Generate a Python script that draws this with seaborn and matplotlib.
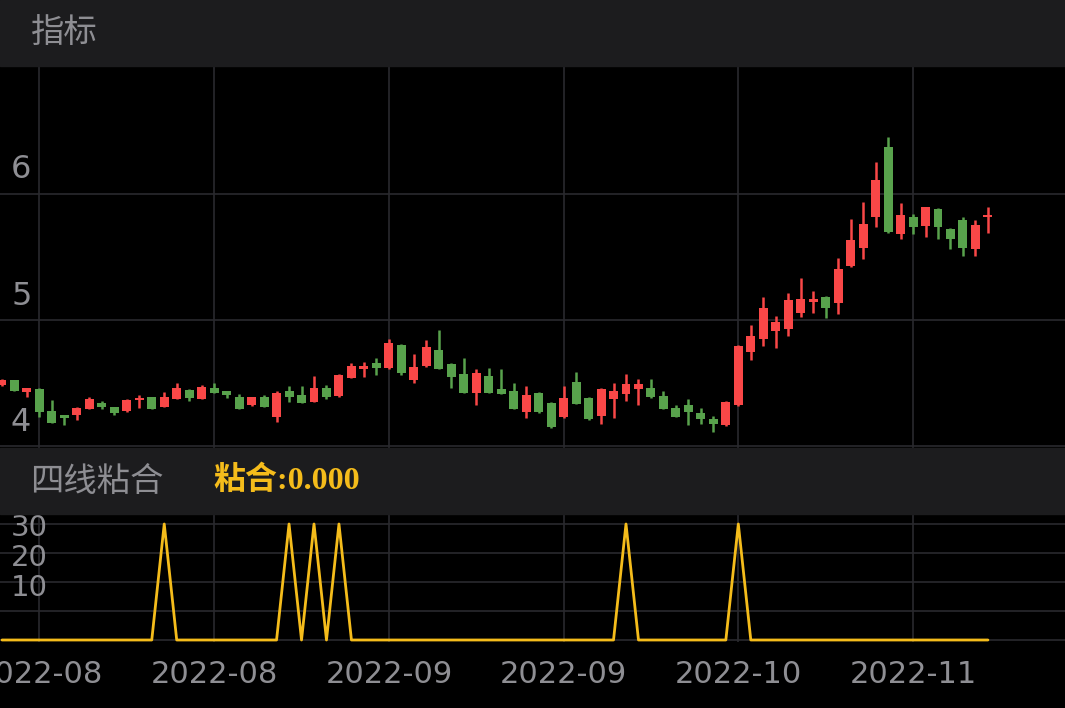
import matplotlib
matplotlib.use("Agg")
import matplotlib.pyplot as plt
import seaborn as sns
import numpy as np
import pandas as pd
from matplotlib.patches import Rectangle

opens = [4.484,4.52,4.429,4.452,4.278,4.246,4.246,4.294,4.341,4.310,4.278,4.365,4.389,4.310,4.373,4.444,4.373,4.460,4.437,4.389,
         4.325,4.389,4.230,4.437,4.405,4.349,4.460,4.397,4.540,4.611,4.659,4.619,4.802,4.524,4.635,4.762,4.651,4.571,4.421,4.556,
         4.452,4.437,4.270,4.421,4.341,4.230,4.508,4.381,4.238,4.373,4.413,4.452,4.460,4.397,4.302,4.325,4.262,4.214,4.167,4.325,
         4.746,4.849,4.913,4.929,5.056,5.143,5.183,5.135,5.429,5.571,5.817,6.373,5.683,5.817,5.746,5.881,5.722,5.794,5.563,5.817]
closes = [4.524,4.437,4.460,4.270,4.183,4.222,4.302,4.373,4.310,4.262,4.365,4.381,4.294,4.389,4.460,4.381,4.468,4.421,4.405,4.294,
          4.389,4.310,4.421,4.389,4.341,4.460,4.389,4.563,4.635,4.635,4.619,4.817,4.579,4.627,4.786,4.611,4.548,4.421,4.579,4.421,
          4.413,4.294,4.405,4.270,4.151,4.381,4.333,4.214,4.452,4.437,4.492,4.492,4.389,4.294,4.230,4.270,4.214,4.175,4.349,4.794,
          4.873,5.095,4.984,5.159,5.167,5.167,5.095,5.405,5.635,5.762,6.111,5.698,5.833,5.738,5.897,5.738,5.643,5.571,5.754,5.833]
highs = [4.53,4.52,4.46,4.46,4.365,4.25,4.31,4.39,4.357,4.31,4.37,4.405,4.39,4.429,4.50,4.45,4.484,4.50,4.44,4.413,
         4.39,4.405,4.437,4.476,4.476,4.556,4.484,4.57,4.659,4.667,4.698,4.849,4.81,4.730,4.841,4.921,4.66,4.698,4.611,4.619,
         4.611,4.50,4.476,4.43,4.349,4.476,4.587,4.39,4.46,4.50,4.571,4.532,4.532,4.437,4.325,4.373,4.302,4.238,4.36,4.80,
         4.960,5.183,5.032,5.214,5.333,5.230,5.19,5.492,5.802,5.937,6.254,6.452,5.929,5.841,5.90,5.89,5.73,5.817,5.794,5.897]
lows = [4.48,4.437,4.389,4.230,4.18,4.167,4.206,4.29,4.294,4.246,4.27,4.302,4.29,4.31,4.37,4.357,4.37,4.42,4.381,4.29,
        4.32,4.31,4.190,4.349,4.34,4.35,4.373,4.39,4.54,4.548,4.563,4.61,4.563,4.50,4.63,4.61,4.460,4.42,4.325,4.42,
        4.41,4.29,4.222,4.26,4.14,4.22,4.33,4.21,4.175,4.222,4.357,4.325,4.38,4.29,4.23,4.167,4.175,4.111,4.16,4.32,
        4.683,4.794,4.778,4.873,5.024,5.056,5.016,5.048,5.42,5.484,5.738,5.69,5.643,5.683,5.659,5.643,5.563,5.508,5.508,5.690]
nianhe = [0]*80
for i in [13, 23, 25, 27, 50, 59]:
    nianhe[i] = 30
tick_idx = [3, 17, 31, 45, 59, 73]
tick_labels = ["2022-08", "2022-08", "2022-09", "2022-09", "2022-10", "2022-11"]

sns.set_theme(style="dark")
plt.rcParams['font.family'] = ['DejaVu Sans', 'Noto Sans CJK SC']

BG = "#000000"; BAR = "#1c1c1e"; GRID = "#2a2a2e"; TXT = "#8e8e93"
RED = "#f94747"; GREEN = "#58a24c"; GOLD = "#f5bc1b"

W, H = 1065, 708
fig = plt.figure(figsize=(W/100, H/100), dpi=100, facecolor=BG)
fig.patches.append(Rectangle((0, 1-66/H), 1, 66/H, transform=fig.transFigure, color=BAR, zorder=0))
fig.patches.append(Rectangle((0, 1-514/H), 1, 66/H, transform=fig.transFigure, color=BAR, zorder=0))
fig.text(31/W, 1-33/H, "指标", color=TXT, fontsize=24, va="center", family=['Noto Sans CJK SC'])
fig.text(30/W, 1-481/H, "四线粘合", color=TXT, fontsize=24, va="center", family=['Noto Sans CJK SC'])
fig.text(213/W, 1-481/H, "粘合:0.000", color=GOLD, fontsize=23, va="center", weight="bold",
         family=['Liberation Serif', 'Noto Sans CJK SC'])

n = len(opens)
x = np.arange(n)
xl = (-2/12.48, (W-2)/12.48)

ax = fig.add_axes([0, (H-448)/H, 1, 382/H])
ax.set_facecolor(BG)
ax.set_xlim(*xl)
ax.set_ylim(5-128/126, 5+254/126)
df = pd.DataFrame({"x": x, "o": opens, "c": closes, "h": highs, "l": lows})
df["up"] = df.c >= df.o
cols = [RED if u else GREEN for u in df.up]
ax.vlines(df.x, df.l, df.h, colors=cols, lw=1.8, zorder=3)
ax.bar(df.x, (df.c-df.o).abs().clip(lower=0.014), bottom=np.minimum(df.o, df.c), width=0.72,
       color=cols, edgecolor=cols, linewidth=0, zorder=4)
for v in [4, 5, 6]:
    ax.axhline(v, color=GRID, lw=1.2, zorder=1)
    ax.text(11/W, v + 24/126, str(v), transform=ax.get_yaxis_transform(), color=TXT, fontsize=23, va="center")
for t in tick_idx:
    ax.axvline(t, color=GRID, lw=1.2, zorder=1)
ax.set_xticks([]); ax.set_yticks([])
for s in ax.spines.values():
    s.set_visible(False)

ax2 = fig.add_axes([0, 66/H, 1, 128/H])
ax2.set_facecolor(BG)
ax2.set_xlim(*xl)
ax2.set_ylim(-2/3.867, 30 + 10/3.867)
for v in [0, 7.5, 15, 22.5, 30]:
    ax2.axhline(v, color=GRID, lw=1.2, zorder=1)
for t in tick_idx:
    ax2.axvline(t, color=GRID, lw=1.2, zorder=1)
sns.lineplot(x=x, y=nianhe, ax=ax2, color=GOLD, lw=2, zorder=3)
for lab, yv in zip(["30", "20", "10"], [28.96, 21.2, 13.4]):
    ax2.text(11/W, yv, lab, transform=ax2.get_yaxis_transform(), color=TXT, fontsize=21, va="center")
ax2.set_xticks(tick_idx)
ax2.set_xticklabels(tick_labels, color=TXT, fontsize=22)
ax2.tick_params(axis="x", length=0, pad=13)
ax2.set_yticks([])
for s in ax2.spines.values():
    s.set_visible(False)

fig.savefig("out.png", dpi=100, facecolor=BG)
